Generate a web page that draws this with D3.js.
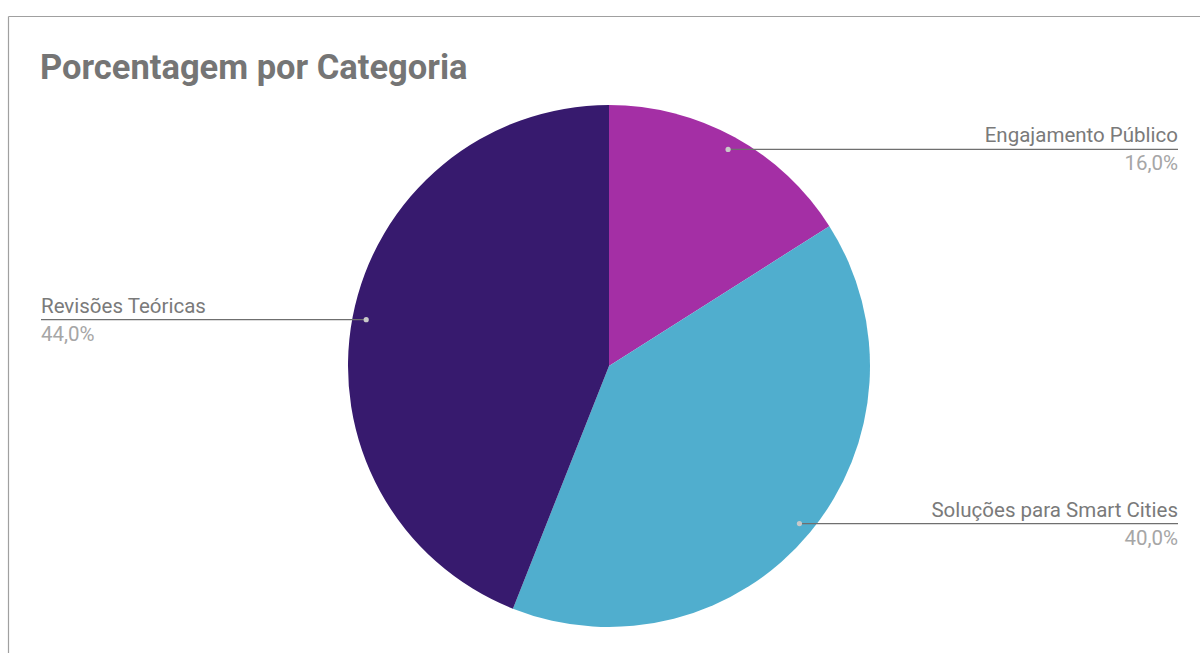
<!DOCTYPE html>
<html>
<head>
<meta charset="utf-8">
<script src="https://cdn.jsdelivr.net/npm/d3@7/dist/d3.min.js"></script>
<style>
  html, body { margin: 0; padding: 0; background: #ffffff; }
  svg { display: block; }
</style>
</head>
<body>
<svg id="chart" width="1200" height="653"></svg>
<script>
// Share of items per category
const categories = ["Engajamento Público", "Soluções para Smart Cities", "Revisões Teóricas"];
const shares = [16.0, 40.0, 44.0];
const colors = ["#a42fa5", "#50aece", "#371a6e"];
const title = "Porcentagem por Categoria";

const W = 1200, H = 653;
const cx = 609, cy = 366, R = 261;

const svg = d3.select("#chart");

// Card frame (top and left edges visible)
svg.append("line").attr("x1", 8.5).attr("x2", W).attr("y1", 16.5).attr("y2", 16.5)
  .attr("stroke", "#a0a0a0").attr("stroke-width", 1.2);
svg.append("line").attr("x1", 8.5).attr("x2", 8.5).attr("y1", 16.5).attr("y2", H)
  .attr("stroke", "#a0a0a0").attr("stroke-width", 1.2);

// Title
svg.append("text")
  .attr("x", 40).attr("y", 79)
  .attr("font-family", "Roboto, 'Noto Sans', sans-serif")
  .attr("font-weight", 700)
  .attr("font-size", 34.5)
  .attr("fill", "#757575")
  .text(title);

const data = categories.map((c, i) => ({ name: c, value: shares[i], color: colors[i] }));

const pie = d3.pie().value(d => d.value).sort(null);
const arcs = pie(data);
const arc = d3.arc().innerRadius(0).outerRadius(R);
const dotArc = d3.arc().innerRadius(R * 0.947).outerRadius(R * 0.947);

const g = svg.append("g").attr("transform", `translate(${cx},${cy})`);

g.selectAll("path.slice")
  .data(arcs)
  .join("path")
  .attr("class", "slice")
  .attr("d", arc)
  .attr("fill", d => d.data.color);

// Leader lines: horizontal from the dot to the label edge
const fmt = v => d3.format(".1f")(v).replace(".", ",") + "%";
const labelFont = "Roboto, 'Noto Sans', sans-serif";

arcs.forEach(a => {
  const [dx, dy] = dotArc.centroid(a);
  const px = cx + dx, py = cy + dy;
  const right = px > cx;
  const endX = right ? 1178 : 41;

  svg.append("line")
    .attr("x1", px).attr("x2", endX)
    .attr("y1", py).attr("y2", py)
    .attr("stroke", "#6f6f6f").attr("stroke-width", 1.2);

  svg.append("circle")
    .attr("cx", px).attr("cy", py).attr("r", 2.6)
    .attr("fill", "#c9c9c9");

  svg.append("text")
    .attr("x", endX).attr("y", py - 7)
    .attr("text-anchor", right ? "end" : "start")
    .attr("font-family", labelFont)
    .attr("font-size", 20.5)
    .attr("fill", "#7a7a7a")
    .text(a.data.name);

  svg.append("text")
    .attr("x", endX).attr("y", py + 21)
    .attr("text-anchor", right ? "end" : "start")
    .attr("font-family", labelFont)
    .attr("font-size", 20.5)
    .attr("fill", "#a6a6a6")
    .text(fmt(a.data.value));
});
</script>
</body>
</html>
